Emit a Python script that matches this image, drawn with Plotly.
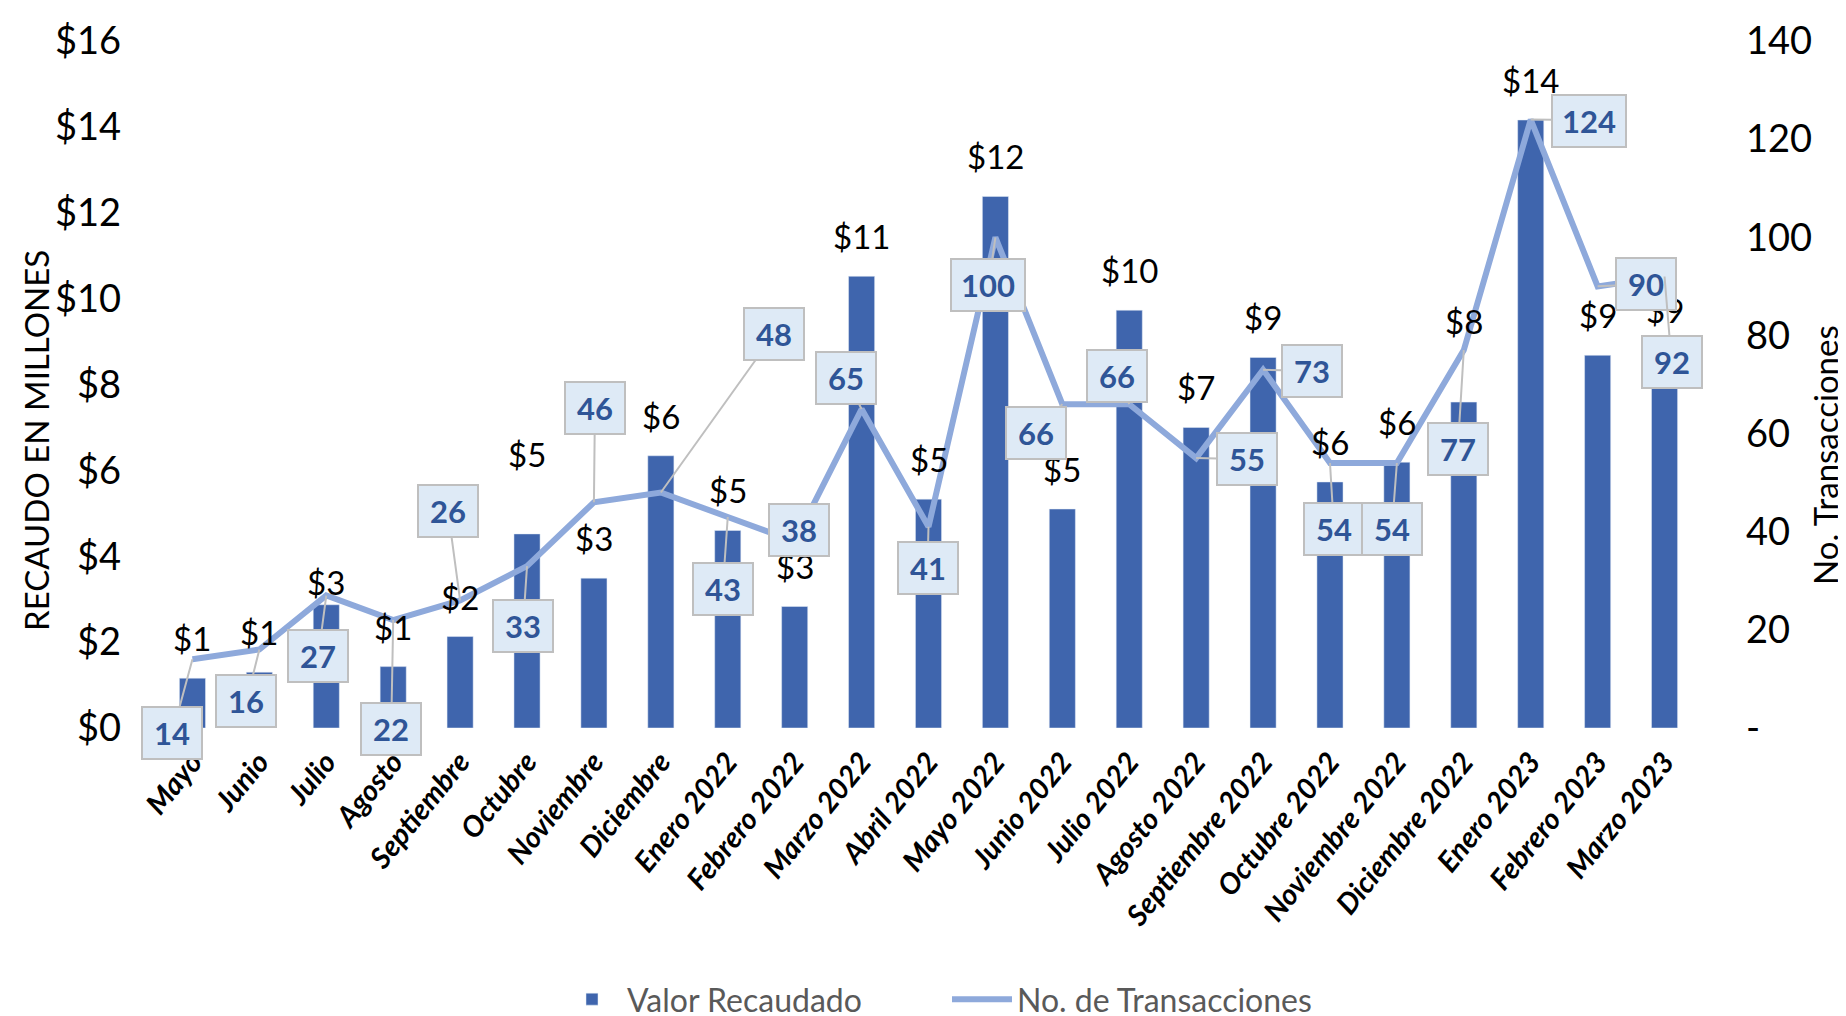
import plotly.graph_objects as go

# ---------------- data ----------------
categorias = ["Mayo", "Junio", "Julio", "Agosto", "Septiembre", "Octubre", "Noviembre",
              "Diciembre", "Enero 2022", "Febrero 2022", "Marzo 2022", "Abril 2022",
              "Mayo 2022", "Junio 2022", "Julio 2022", "Agosto 2022", "Septiembre 2022",
              "Octubre 2022", "Noviembre 2022", "Diciembre 2022", "Enero 2023",
              "Febrero 2023", "Marzo 2023"]
valor_recaudado = [1.16, 1.3, 2.87, 1.43, 2.13, 4.52, 3.49, 6.34, 4.6, 2.83, 10.52, 5.33,
                   12.38, 5.1, 9.73, 7.0, 8.63, 5.73, 6.19, 7.59, 14.16, 8.68, 8.8]
transacciones = [14, 16, 27, 22, 26, 33, 46, 48, 43, 38, 65, 41, 100, 66, 66, 55, 73,
                 54, 54, 77, 124, 90, 92]
ticks_izq = [0, 2, 4, 6, 8, 10, 12, 14, 16]
ticks_der = [0, 20, 40, 60, 80, 100, 120, 140]
ticks_der_txt = ["-", "20", "40", "60", "80", "100", "120", "140"]

# ---------------- styling (positions/offsets of labels) ----------------
# extra vertical shift (px) for a few value labels moved in the original
label_shift = [0, 0, -17, 0, 0, 40, 0, 0, 0, 0, 0, 0, 0, 0, 0, 0, 0, 0, 0, 41, 0, 0, 0]
# callout offsets (px) from the line point to the box centre
callout_ax = [-20, -13, -8, -2, -12, -4, 1, 113, -5, 4, -16, -1, -7, -26, -12, 51, 49, 4, -5, -6, 58, 48, 7]
callout_ay = [74, 52, 60, 109, -89, 60, -94, -158, 72, -12, -31, 41, 48, 29, -28, 1, 1, 66, 66, 99, 1, -2, 85]

BAR_COLOR = "#3F65AD"
LINE_COLOR = "#8EA9DB"
MAIN = "Lato, Calibri, sans-serif"

W, H = 1846, 1016
L, R, T, B = 151, 156, 33, 296
pw, ph = W - L - R, H - T - B

fig = go.Figure()
fig.add_trace(go.Bar(x=categorias, y=valor_recaudado, name="Valor Recaudado",
                     marker_color=BAR_COLOR, yaxis="y"))
fig.add_trace(go.Scatter(x=categorias, y=transacciones, name="No. de Transacciones",
                         mode="lines", line=dict(color=LINE_COLOR, width=6), yaxis="y2"))

annotations = []
for c, v, s in zip(categorias, valor_recaudado, label_shift):
    annotations.append(dict(x=c, y=v, xref="x", yref="y", text=f"${round(v)}",
                            showarrow=False, yanchor="bottom", yshift=18 + s,
                            font=dict(family=MAIN, size=33, color="#000000")))
for c, t, ax, ay in zip(categorias, transacciones, callout_ax, callout_ay):
    annotations.append(dict(x=c, y=t, xref="x", yref="y2", text=f"<b>{t}</b>",
                            showarrow=True, arrowhead=0, arrowwidth=2, arrowcolor="#BFBFBF",
                            ax=ax, ay=ay, axref="pixel", ayref="pixel", standoff=0,
                            bgcolor="#DEEAF6", bordercolor="#BFBFBF", borderwidth=2,
                            borderpad=6, width=46 + 14 * (len(str(t)) - 2),
                            font=dict(family=MAIN, size=31, color="#2F5597")))
# axis titles (placed by pixel position, converted to paper coordinates)
annotations.append(dict(x=(28 - L) / pw, y=(H - B - 433) / ph, xref="paper", yref="paper",
                        xanchor="center", yanchor="middle", text="RECAUDO EN MILLONES",
                        showarrow=False, textangle=-90,
                        font=dict(family=MAIN, size=33, color="#000000")))
annotations.append(dict(x=(1817 - L) / pw, y=(H - B - 447) / ph, xref="paper", yref="paper",
                        xanchor="center", yanchor="middle", text="No. Transacciones",
                        showarrow=False, textangle=-90,
                        font=dict(family=MAIN, size=33, color="#000000")))

fig.update_layout(
    width=W, height=H,
    margin=dict(l=L, r=R, t=T, b=B, autoexpand=False),
    paper_bgcolor="white", plot_bgcolor="white",
    bargap=0.61,
    showlegend=True,
    legend=dict(orientation="h", x=(939 - L) / pw, xanchor="center", y=-0.435, yanchor="bottom",
                font=dict(family=MAIN, size=32, color="#595959"),
                entrywidth=315, itemwidth=60),
    xaxis=dict(type="category", range=[-0.5, len(categorias) - 0.5], autorange=False,
               tickangle=-51, showgrid=False, showline=False, zeroline=False,
               ticks="", ticklabelstandoff=10, automargin=False,
               tickfont=dict(family=MAIN, size=29, color="#000000", weight="bold", style="italic")),
    yaxis=dict(range=[0, 16], tickvals=ticks_izq, ticktext=[f"${v}" for v in ticks_izq],
               showgrid=False, zeroline=False, showline=False, ticks="", ticklabelstandoff=37,
               automargin=False, tickfont=dict(family=MAIN, size=38, color="#000000")),
    yaxis2=dict(range=[0, 140], overlaying="y", side="right", tickvals=ticks_der,
                ticktext=ticks_der_txt, showgrid=False, zeroline=False, showline=False,
                ticks="", ticklabelstandoff=47, automargin=False,
                tickfont=dict(family=MAIN, size=38, color="#000000")),
    annotations=annotations,
)

fig.write_html("out.html")
